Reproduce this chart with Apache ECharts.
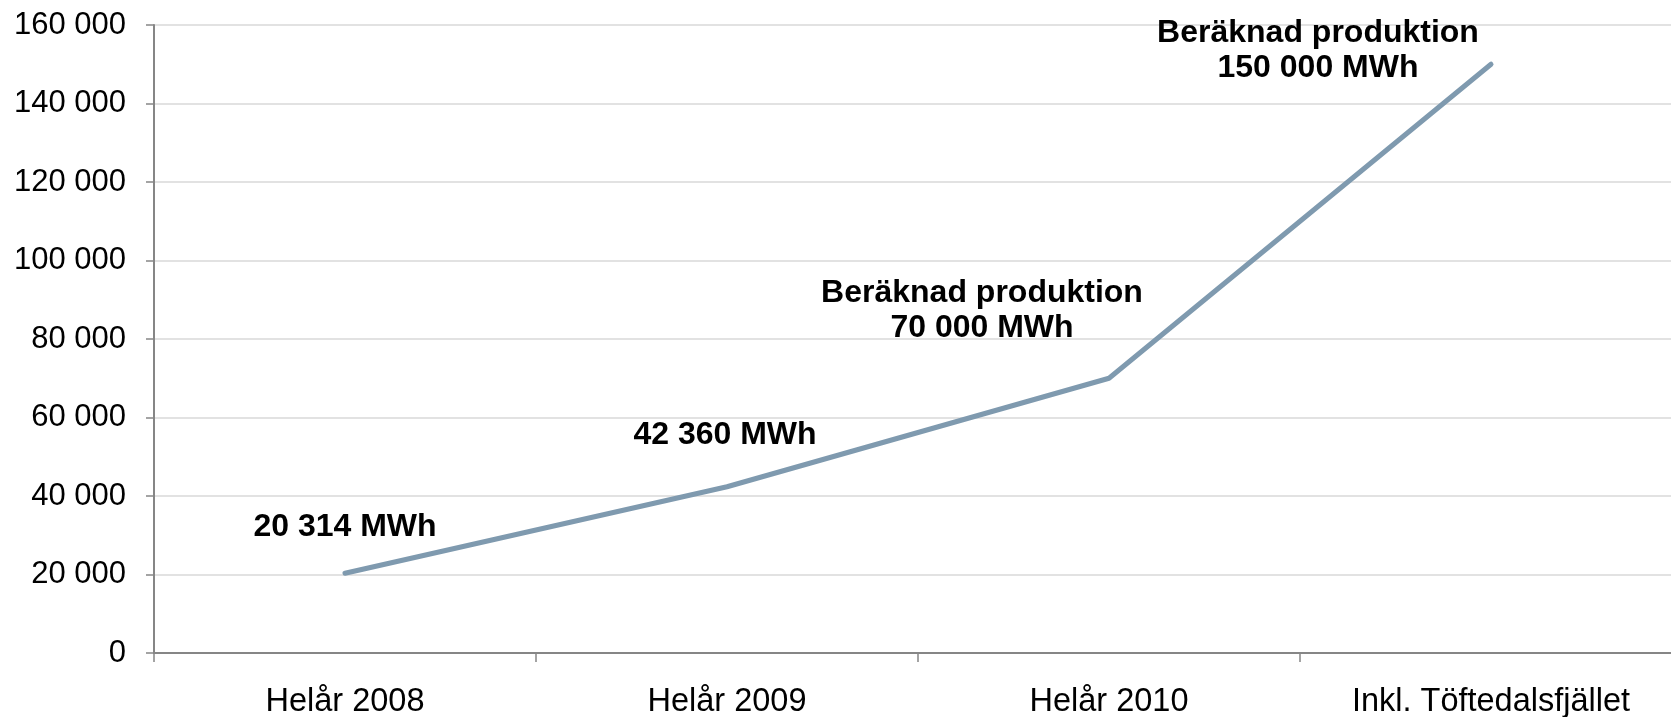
<!DOCTYPE html>
<html>
<head>
<meta charset="utf-8">
<script src="https://cdn.jsdelivr.net/npm/echarts@6/dist/echarts.min.js"></script>
<style>
	html, body { margin: 0; padding: 0; background: #fff; }
	#chart { width: 1671px; height: 717px; }
</style>
</head>
<body>
<div id="chart"></div>
<script>
const categories = ['Helår 2008', 'Helår 2009', 'Helår 2010', 'Inkl. Töftedalsfjället']
const production = [20314, 42360, 70000, 150000]
const pointLabels = [
	'20 314 MWh',
	'42 360 MWh',
	'Beräknad produktion\n70 000 MWh',
	'Beräknad produktion\n150 000 MWh'
]
// label placement relative to each point
const labelOffsets = [[0, -46], [-2, -52], [-127, -68], [-173, -14]]

const fontFamily = '"Liberation Sans", Arial, sans-serif'

const chart = echarts.init(document.getElementById('chart'))

const formatThousands = (v) => String(v).replace(/\B(?=(\d{3})+(?!\d))/g, ' ')

const option = {
	animation: false,
	grid: {
		left: 154,
		right: -11,
		top: 25,
		bottom: 64,
		outerBoundsMode: 'none'
	},
	xAxis: {
		type: 'category',
		data: categories,
		boundaryGap: true,
		axisLine: { lineStyle: { color: '#868686', width: 2 } },
		axisTick: { show: true, length: 9, lineStyle: { color: '#868686', width: 1.5 } },
		axisLabel: {
			margin: 33,
			color: '#000',
			fontFamily: fontFamily,
			fontSize: 32.5,
			interval: 0
		},
		splitLine: { show: false }
	},
	yAxis: {
		type: 'value',
		min: 0,
		max: 160000,
		interval: 20000,
		axisLine: { show: true, lineStyle: { color: '#868686', width: 2 } },
		axisTick: { show: true, length: 8, lineStyle: { color: '#868686', width: 1.5 } },
		axisLabel: {
			margin: 28,
			color: '#000',
			fontFamily: fontFamily,
			fontSize: 31,
			formatter: formatThousands
		},
		splitLine: { lineStyle: { color: '#d9d9d9', width: 1.5 } }
	},
	series: [
		{
			type: 'line',
			data: production.map((v, i) => ({
				value: v,
				label: {
					formatter: pointLabels[i],
					offset: labelOffsets[i]
				}
			})),
			symbol: 'circle',
			symbolSize: 1,
			showSymbol: true,
			itemStyle: { color: '#7f9aaf' },
			lineStyle: { color: '#7f9aaf', width: 5, cap: 'round' },
			label: {
				show: true,
				position: 'inside',
				color: '#000',
				fontFamily: fontFamily,
				fontWeight: 'bold',
				fontSize: 32,
				lineHeight: 35,
				align: 'center'
			}
		}
	]
}

chart.setOption(option)

window.addEventListener('resize', () => chart.resize())
</script>
</body>
</html>
